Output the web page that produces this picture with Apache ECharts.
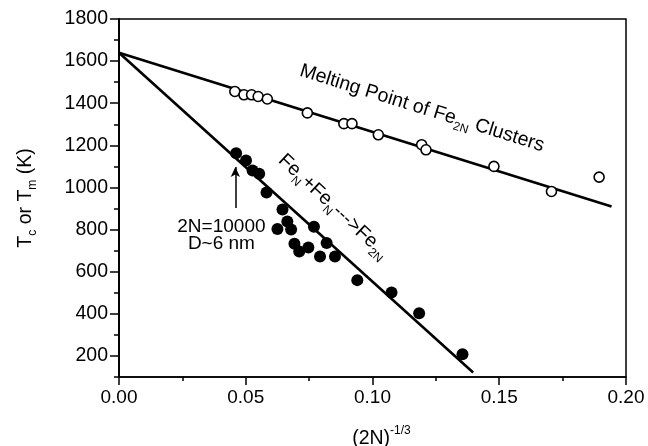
<!DOCTYPE html>
<html><head><meta charset="utf-8">
<script src="https://cdn.jsdelivr.net/npm/echarts@6/dist/echarts.min.js"></script>
<style>html,body{margin:0;padding:0;background:#fff}#c{width:648px;height:446px}</style>
</head><body><div id="c"></div>
<script>
// Melting point of Fe2N clusters (open circles)
const openX = [0.0457,0.0493,0.0523,0.0549,0.0585,0.0743,0.0887,0.0919,0.1023,0.1194,0.1211,0.1479,0.1706,0.1894];
const openY = [1456,1440,1440,1432,1420,1354,1303,1303,1250,1203,1179,1100,981,1049];
// FeN + FeN -> Fe2N (filled circles)
const fillX = [0.0462,0.0501,0.0527,0.0553,0.0582,0.0645,0.0664,0.0625,0.0679,0.0769,0.0692,0.0711,0.0747,0.0819,0.0793,0.0852,0.0940,0.1075,0.1184,0.1355];
const fillY = [1163,1128,1081,1065,976,895,838,803,800,813,733,696,715,736,672,672,560,501,403,208];
// fit lines (end points)
const meltLineX = [0, 0.1943];
const meltLineY = [1640, 910];
const fuseLineX = [0, 0.1397];
const fuseLineY = [1640, 121];
// arrow annotation 2N=10000
const arrowX = [0.0459, 0.0459];
const arrowY = [902, 1097];
// ticks
const xTicks = [0, 0.05, 0.10, 0.15, 0.20];
const yTicks = [200,400,600,800,1000,1200,1400,1600,1800];
// annotation anchors [x, y]
const meltText = [0.1195, 1376];
const fuseText = [0.0846, 910];
const sizeText = [0.0404, 775];

const zip = (a,b) => a.map((v,i)=>[v,b[i]]);
const FONT = 'Liberation Sans, Arial, Helvetica, sans-serif';
const subRich = {
  b: {fontSize: 19.5, fontFamily: FONT, color:'#000', lineHeight: 27},
  sub: {fontSize: 12, fontFamily: FONT, color:'#000', verticalAlign: 'bottom', lineHeight: 12},
  sup: {fontSize: 12, fontFamily: FONT, color:'#000', verticalAlign: 'top', lineHeight: 12}
};

const chart = echarts.init(document.getElementById('c'), null, {renderer:'canvas'});
const axisLineStyle = {color:'#000', width:1.5};
chart.setOption({
  animation: false,
  backgroundColor: '#fff',
  grid: {left:119, right:22, top:19, bottom:69, containLabel:false, outerBoundsMode:'none',
         show:true, borderColor:'#000', borderWidth:1.5, backgroundColor:'transparent'},
  xAxis: {
    type:'value', min:0, max:0.2, interval:0.05,
    axisLine:{show:true, lineStyle:axisLineStyle},
    axisTick:{show:true, length:8, inside:false, lineStyle:{color:'#000', width:1.5}},
    minorTick:{show:true, splitNumber:2, length:4, lineStyle:{color:'#000', width:1.5}},
    splitLine:{show:false}, minorSplitLine:{show:false},
    axisLabel:{color:'#000', fontSize:19, fontFamily:FONT, margin:11, formatter:v=>v.toFixed(2)},
    name:'{b|(2N)}{sup|-1/3}', nameLocation:'middle', nameGap:48,
    nameTextStyle:{rich:subRich, padding:[0,0,0,18]}
  },
  yAxis: [
    {
      type:'value', min:100, max:1800, interval:100, position:'left',
      axisLine:{show:true, lineStyle:axisLineStyle},
      axisTick:{show:true, length:5, lineStyle:{color:'#000', width:1.5}},
      axisLabel:{show:false}, splitLine:{show:false}
    },
    {
      type:'value', min:100, max:1800, interval:100, position:'left',
      axisLine:{show:true, lineStyle:axisLineStyle},
      axisTick:{show:true, length:9, customValues:yTicks, lineStyle:{color:'#000', width:1.5}},
      axisLabel:{show:true, customValues:yTicks, color:'#000', fontSize:19.5, fontFamily:FONT, margin:11, formatter:v=>String(v)},
      splitLine:{show:false},
      name:'{b|T}{sub|c}{b| or T}{sub|m}{b| (K)}', nameLocation:'middle', nameGap:80, nameRotate:90,
      nameTextStyle:{rich:subRich}
    }
  ],
  series: [
    {type:'line', data: zip(meltLineX, meltLineY), symbol:'none', lineStyle:{color:'#000', width:2.6}, silent:true, z:2},
    {type:'line', data: zip(fuseLineX, fuseLineY), symbol:'none', lineStyle:{color:'#000', width:2.6}, silent:true, z:2},
    {type:'scatter', data: zip(openX, openY), symbol:'circle', symbolSize:10,
     itemStyle:{color:'#fff', borderColor:'#000', borderWidth:1.6, opacity:1}, z:3},
    {type:'scatter', data: zip(fillX, fillY), symbol:'circle', symbolSize:12,
     itemStyle:{color:'#000', opacity:1}, z:3,
     markLine:{silent:true, symbol:['none','arrow'], symbolSize:[7,10], lineStyle:{color:'#000', width:1.5, type:'solid', opacity:1},
       label:{show:false}, emphasis:{disabled:true},
       data:[[{coord:[arrowX[0], arrowY[0]]},{coord:[arrowX[1], arrowY[1]]}]]}},
    {type:'scatter', symbolSize:0, z:5, silent:true, itemStyle:{opacity:1, color:'#000'},
     data:[
       {value: meltText, label:{show:true, position:'inside', rotate:-17.3, color:'#000', opacity:1, formatter:'{b|Melting Point of Fe}{sub|2N}{b| Clusters}', rich:subRich}},
       {value: fuseText, label:{show:true, position:'inside', rotate:-43, color:'#000', opacity:1, formatter:'{b|Fe}{sub|N}{b|+Fe}{sub|N}{b|--->Fe}{sub|2N}', rich:subRich}},
       {value: sizeText, label:{show:true, position:'inside', formatter:'2N=10000\nD~6 nm', color:'#000', opacity:1, fontSize:19, fontFamily:FONT, lineHeight:17, align:'center'}}
     ]}
  ]
});
</script></body></html>
